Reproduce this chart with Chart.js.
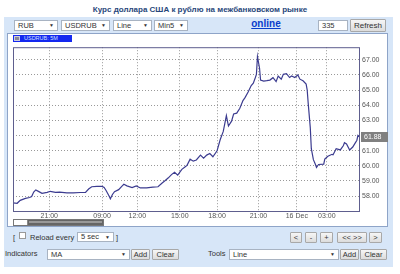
<!DOCTYPE html>
<html>
<head>
<meta charset="utf-8">
<script src="https://cdn.jsdelivr.net/npm/chart.js"></script>
<style>
* { box-sizing: border-box; }
body { margin: 0; width: 400px; height: 274px; background: #fff; position: relative; overflow: hidden;
  font-family: "Liberation Sans", Arial, sans-serif; font-size: 8px; color: #222; }
.a { position: absolute; }
#title { left: 0; top: 5px; width: 400px; text-align: center; font-size: 8px; font-weight: bold; color: #27467a; }
#panel { left: 4px; top: 17px; width: 389px; height: 250px; background: #d7e6f8; }
.sel { position: absolute; height: 11px; background: #fff; border: 1px solid #a8b3c2; line-height: 9px; padding-left: 3px; font-size: 7.5px; color: #333; }
.sel i { position: absolute; right: 3px; top: 0; font-style: normal; font-size: 5px; line-height: 9px; }
.btn { position: absolute; height: 11px; background: linear-gradient(#f6f6f6, #dcdcdc); border: 1px solid #a8a8a8; line-height: 9px; text-align: center; font-size: 7.5px; color: #333; border-radius: 1px; }
.txt { position: absolute; font-size: 7.5px; line-height: 9px; color: #333; }
#box { left: 7px; top: 33px; width: 381px; height: 194px; background: #fff; border: 1px solid #8ea4c8; }
#tag { left: 13px; top: 35px; width: 59px; height: 7px; background: #1428f0; color: #cfe0ff; font-size: 5.5px; line-height: 7px; padding-left: 11px; }
#tag b { position: absolute; left: 1px; top: 1px; width: 6px; height: 5px; background: #889; border: 1px solid #ccd; }
#wrap { left: 12px; top: 41px; width: 378px; height: 178px; }
</style>
</head>
<body>
<div id="title" class="a">Курс доллара США к рублю на межбанковском рынке</div>
<div id="panel" class="a"></div>

<div class="sel" style="left:14px;top:20px;width:44px">RUB<i>▼</i></div>
<div class="sel" style="left:61px;top:20px;width:49px">USDRUB<i>▼</i></div>
<div class="sel" style="left:113px;top:20px;width:39px">Line<i>▼</i></div>
<div class="sel" style="left:154px;top:20px;width:34px">Min5<i>▼</i></div>
<div class="a" style="left:240px;top:18px;width:52px;text-align:center;font-size:10px;font-weight:bold;color:#0a3ccc;text-decoration:underline">online</div>
<div class="sel" style="left:318px;top:20px;width:30px">335</div>
<div class="btn" style="left:350px;top:19px;width:36px;height:13px;line-height:11px;font-size:8px">Refresh</div>

<div id="box" class="a"></div>
<div id="wrap" class="a"><canvas id="myChart" width="378" height="178"></canvas></div>
<div id="tag" class="a"><b></b>USDRUB: 5M</div>

<div class="a" style="left:13px;top:219px;width:91px;height:7px;border:1px solid #777;background:#666"></div>
<div class="a" style="left:14px;top:220px;width:14px;height:5px;background:#fff;border-right:1px solid #888"></div>
<div class="a" style="left:29px;top:221px;width:73px;height:2px;background:#999"></div>

<div class="txt" style="left:13px;top:233px">[</div>
<div class="a" style="left:19px;top:232px;width:7px;height:7px;background:#fff;border:1px solid #999"></div>
<div class="txt" style="left:30px;top:233px">Reload every</div>
<div class="sel" style="left:77px;top:232px;width:37px;height:10px;line-height:8px">5 sec<i style="line-height:8px">▼</i></div>
<div class="txt" style="left:116px;top:233px">]</div>

<div class="btn" style="left:290px;top:232px;width:12px">&lt;</div>
<div class="btn" style="left:305px;top:232px;width:12px">-</div>
<div class="btn" style="left:320px;top:232px;width:13px">+</div>
<div class="btn" style="left:337px;top:232px;width:30px">&lt;&lt; &gt;&gt;</div>
<div class="btn" style="left:369px;top:232px;width:13px">&gt;</div>

<div class="txt" style="left:5px;top:249px">Indicators</div>
<div class="sel" style="left:47px;top:249px;width:83px">MA<i>▼</i></div>
<div class="btn" style="left:131px;top:249px;width:19px">Add</div>
<div class="btn" style="left:152px;top:249px;width:27px">Clear</div>
<div class="txt" style="left:208px;top:249px">Tools</div>
<div class="sel" style="left:229px;top:249px;width:110px">Line<i>▼</i></div>
<div class="btn" style="left:340px;top:249px;width:19px">Add</div>
<div class="btn" style="left:360px;top:249px;width:27px">Clear</div>

<script>
// 5-minute bars, index from the left edge of the window
const barIndex = [0, 4, 7, 12, 16, 18, 20, 22, 25, 28, 33, 36, 41, 45, 52, 58, 65, 70, 73, 76,
  81, 86, 88, 90, 93, 94, 96, 98, 102, 105, 107, 110, 115, 119, 123, 129, 135, 140, 144, 147,
  150, 153, 156, 159, 163, 166, 168, 171, 174, 177, 181, 184, 187, 190, 193, 197, 200, 203, 206, 208,
  211, 213, 216, 219, 222, 224, 227, 230, 232, 234, 235, 236, 238, 239, 242, 245, 248, 251, 254, 256,
  259, 261, 264, 267, 269, 272, 275, 277, 280, 283, 284, 285, 287, 288, 290, 292, 293, 295, 300, 301,
  304, 308, 309, 311, 312, 316, 319, 320, 322, 325, 328, 330, 332, 333, 335];
const usdrub = [57.56, 57.53, 57.72, 57.85, 57.91, 57.98, 58.27, 58.41, 58.30, 58.19, 58.25, 58.32, 58.25, 58.27, 58.22, 58.22, 58.24, 58.25, 58.47, 58.62,
  58.64, 58.64, 58.57, 58.36, 57.98, 57.83, 58.11, 58.30, 58.43, 58.65, 58.78, 58.68, 58.57, 58.68, 58.54, 58.54, 58.59, 58.62, 58.87, 59.03,
  59.21, 59.42, 59.58, 59.39, 59.77, 59.93, 60.03, 60.44, 60.31, 60.39, 60.71, 60.51, 60.71, 60.81, 60.60, 60.99, 61.72, 62.27, 63.31, 62.63,
  62.95, 63.42, 63.48, 63.80, 64.31, 64.50, 64.87, 65.30, 65.46, 65.83, 66.04, 67.21, 66.46, 65.66, 65.59, 65.62, 65.66, 65.82, 65.56, 65.93,
  65.72, 66.04, 66.09, 65.83, 65.93, 65.83, 66.00, 65.72, 65.61, 65.40, 65.02, 64.12, 62.52, 61.13, 60.41, 60.09, 59.90, 60.09, 60.11, 60.44,
  60.63, 60.76, 60.73, 60.99, 61.13, 61.05, 61.34, 61.53, 61.45, 61.05, 61.24, 61.47, 61.69, 62.01, 61.88];

const timeTickPos = [35, 86, 120, 161, 197, 237, 274, 303];
const timeTickLabels = ['21:00', '09:00', '12:00', '15:00', '18:00', '21:00', '16 Dec', '03:00'];
const priceTicks = [58, 59, 60, 61, 62, 63, 64, 65, 66, 67];

const points = barIndex.map((b, i) => ({ x: b, y: usdrub[i] }));

const framePlugin = {
  id: 'frame',
  afterDraw(chart) {
    const { ctx, chartArea: a, scales } = chart;
    ctx.save();
    ctx.strokeStyle = '#5e5e8e';
    ctx.lineWidth = 1;
    ctx.strokeRect(a.left + 0.5, a.top + 0.5, a.right - a.left - 1, a.bottom - a.top);
    // last price tag
    const last = usdrub[usdrub.length - 1];
    const y = Math.round(scales.y.getPixelForValue(last));
    ctx.fillStyle = '#808080';
    ctx.fillRect(a.right + 1, y - 5, 27, 10);
    ctx.fillStyle = '#fff';
    ctx.font = '7px "Liberation Sans", Arial';
    ctx.textBaseline = 'middle';
    ctx.fillText(last.toFixed(2), a.right + 4, y + 0.5);
    ctx.restore();
  }
};

new Chart(document.getElementById('myChart'), {
  type: 'line',
  data: {
    datasets: [{
      data: points,
      borderColor: '#3c3c90',
      borderWidth: 1.2,
      pointRadius: 0,
      tension: 0,
      fill: false
    }]
  },
  options: {
    responsive: false,
    animation: false,
    layout: { padding: { left: 1, top: 1, right: 0, bottom: 0 } },
    plugins: { legend: { display: false }, tooltip: { enabled: false } },
    scales: {
      x: {
        type: 'linear',
        min: 0,
        max: 335,
        afterBuildTicks: s => { s.ticks = timeTickPos.map(v => ({ value: v })); },
        afterFit: s => { s.height = 8; },
        ticks: {
          autoSkip: false,
          maxRotation: 0,
          padding: 1,
          color: '#555',
          font: { size: 7, family: '"Liberation Sans", Arial' },
          callback: v => timeTickLabels[timeTickPos.indexOf(v)]
        },
        grid: { color: '#999', drawTicks: false },
        border: { display: false, dash: [1, 2] }
      },
      y: {
        position: 'right',
        min: 57.02,
        max: 67.83,
        afterBuildTicks: s => { s.ticks = priceTicks.map(v => ({ value: v })); },
        afterFit: s => { s.width = 30; },
        ticks: {
          padding: 2,
          color: '#555',
          font: { size: 7, family: '"Liberation Sans", Arial' },
          callback: v => v.toFixed(2)
        },
        grid: { color: '#999', drawTicks: false },
        border: { display: false, dash: [1, 2] }
      }
    }
  },
  plugins: [framePlugin]
});
</script>
</body>
</html>
